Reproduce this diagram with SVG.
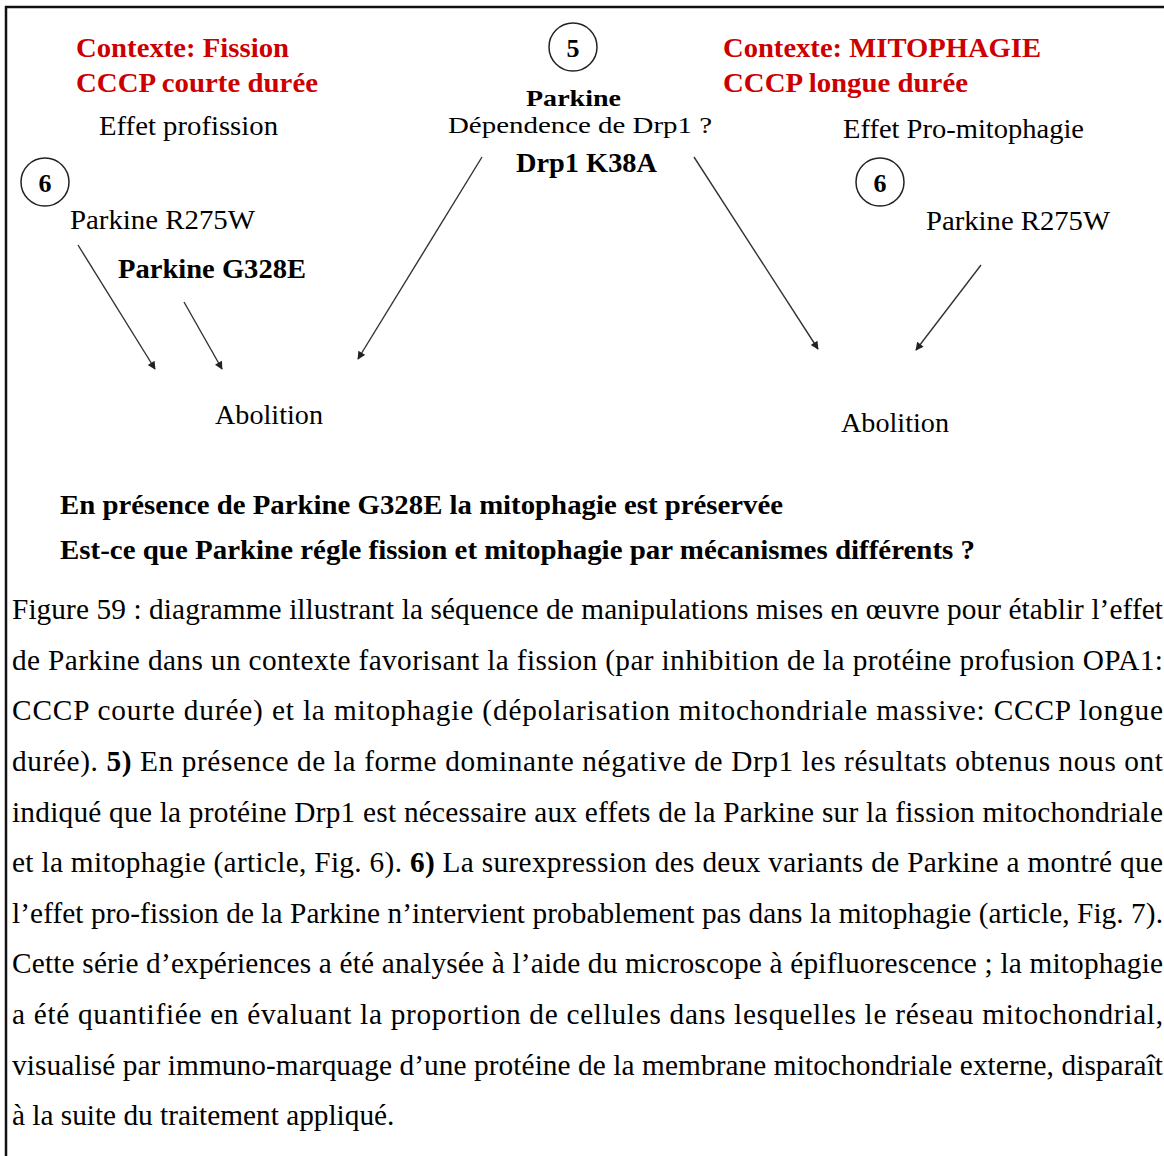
<svg xmlns="http://www.w3.org/2000/svg" width="1164" height="1156" viewBox="0 0 1164 1156">
<style>
.t{font-family:"Liberation Serif","Times New Roman",serif;font-size:28px;fill:#000}
.b{font-weight:bold}
.red{fill:#cc0000;font-weight:bold}
.num{font-family:"Liberation Serif","Times New Roman",serif;font-size:26px;text-anchor:middle;font-weight:bold}
.circ{fill:none;stroke:#222;stroke-width:1.5}
.cap{font-family:"Liberation Serif","Times New Roman",serif;font-size:29.3px;fill:#000}
.arr{stroke:#333;stroke-width:1.4;fill:none;marker-end:url(#ah)}
</style>
<defs>
<marker id="ah" viewBox="0 0 10 10" refX="9" refY="5" markerWidth="10" markerHeight="8" markerUnits="userSpaceOnUse" orient="auto">
<path d="M0,0 L10,5 L0,10 z" fill="#222"/>
</marker>
</defs>
<rect width="1164" height="1156" fill="#fff"/>
<g id="frame">
<line x1="5" y1="7" x2="1164" y2="7" stroke="#111" stroke-width="2.5"/>
<line x1="6" y1="6" x2="6" y2="1156" stroke="#111" stroke-width="2.5"/>
</g>
<g id="ctx-fission">
<text class="t red" x="76" y="57" textLength="213" lengthAdjust="spacingAndGlyphs">Contexte: Fission</text>
<text class="t red" x="76" y="92" textLength="242" lengthAdjust="spacingAndGlyphs">CCCP courte durée</text>
<text class="t" x="99" y="135" textLength="179" lengthAdjust="spacingAndGlyphs">Effet profission</text>
</g>
<g id="step6-left">
<circle class="circ" cx="45" cy="182" r="24"/>
<text class="num" x="45" y="192">6</text>
</g>
<g id="r275w-left"><text class="t" x="70" y="229" textLength="185" lengthAdjust="spacingAndGlyphs">Parkine R275W</text></g>
<g id="g328e"><text class="t b" x="118" y="278" textLength="188" lengthAdjust="spacingAndGlyphs">Parkine G328E</text></g>
<g id="step5">
<circle class="circ" cx="573" cy="47" r="24"/>
<text class="num" x="573" y="57" font-weight="normal">5</text>
</g>
<g id="center">
<text class="t b" x="526" y="106" style="font-size:23px" textLength="95" lengthAdjust="spacingAndGlyphs">Parkine</text>
<text class="t" x="448" y="133" style="font-size:24px" textLength="264" lengthAdjust="spacingAndGlyphs">Dépendence de Drp1 ?</text>
<text class="t b" x="516" y="172" textLength="141" lengthAdjust="spacingAndGlyphs">Drp1 K38A</text>
</g>
<g id="ctx-mitophagie">
<text class="t red" x="723" y="57" textLength="318" lengthAdjust="spacingAndGlyphs">Contexte: MITOPHAGIE</text>
<text class="t red" x="723" y="92" textLength="245" lengthAdjust="spacingAndGlyphs">CCCP longue durée</text>
<text class="t" x="843" y="138" textLength="241" lengthAdjust="spacingAndGlyphs">Effet Pro-mitophagie</text>
</g>
<g id="step6-right">
<circle class="circ" cx="880" cy="182" r="24"/>
<text class="num" x="880" y="192">6</text>
</g>
<g id="r275w-right"><text class="t" x="926" y="230" textLength="184" lengthAdjust="spacingAndGlyphs">Parkine R275W</text></g>
<g id="abolition-left"><text class="t" x="215" y="424" textLength="108" lengthAdjust="spacingAndGlyphs">Abolition</text></g>
<g id="abolition-right"><text class="t" x="841" y="432" textLength="108" lengthAdjust="spacingAndGlyphs">Abolition</text></g>
<g id="connectors">
<line class="arr" x1="78" y1="245" x2="155" y2="369"/>
<line class="arr" x1="184" y1="302" x2="222" y2="369"/>
<line class="arr" x1="482" y1="157" x2="358" y2="359"/>
<line class="arr" x1="694" y1="157" x2="818" y2="349"/>
<line class="arr" x1="981" y1="265" x2="916" y2="350"/>
</g>
<g id="conclusion">
<text class="t b" x="60" y="514" textLength="723" lengthAdjust="spacingAndGlyphs">En présence de Parkine G328E la mitophagie est préservée</text>
<text class="t b" x="60" y="559" textLength="915" lengthAdjust="spacingAndGlyphs">Est-ce que Parkine régle fission et mitophagie par mécanismes différents ?</text>
</g>
<g id="caption">
<text class="cap" x="12" y="619" textLength="1151" lengthAdjust="spacing">Figure 59 : diagramme  illustrant la séquence de manipulations mises en œuvre pour établir l’effet</text>
<text class="cap" x="12" y="670" textLength="1151" lengthAdjust="spacing">de Parkine dans un contexte favorisant la fission (par inhibition de la protéine profusion OPA1:</text>
<text class="cap" x="12" y="720" textLength="1151" lengthAdjust="spacing">CCCP courte durée) et la mitophagie (dépolarisation mitochondriale massive: CCCP longue</text>
<text class="cap" x="12" y="771" textLength="1151" lengthAdjust="spacing">durée). <tspan font-weight="bold">5)</tspan> En présence de la forme dominante négative de Drp1 les résultats obtenus nous ont</text>
<text class="cap" x="12" y="822" textLength="1151" lengthAdjust="spacing">indiqué que la protéine Drp1 est nécessaire aux effets de la Parkine sur la fission mitochondriale</text>
<text class="cap" x="12" y="872" textLength="1151" lengthAdjust="spacing">et la mitophagie (article, Fig. 6). <tspan font-weight="bold">6)</tspan> La surexpression des deux variants de Parkine a montré que</text>
<text class="cap" x="12" y="923" textLength="1151" lengthAdjust="spacing">l’effet pro-fission de la Parkine n’intervient probablement pas dans la mitophagie (article, Fig. 7).</text>
<text class="cap" x="12" y="973" textLength="1151" lengthAdjust="spacing">Cette série d’expériences a été analysée à l’aide du microscope à épifluorescence ; la mitophagie</text>
<text class="cap" x="12" y="1024" textLength="1151" lengthAdjust="spacing">a été quantifiée en évaluant la proportion de cellules dans lesquelles le réseau mitochondrial,</text>
<text class="cap" x="12" y="1075" textLength="1151" lengthAdjust="spacing">visualisé par immuno-marquage d’une protéine de la membrane mitochondriale externe, disparaît</text>
<text class="cap" x="12" y="1125">à la suite du traitement appliqué.</text>
</g>
</svg>
